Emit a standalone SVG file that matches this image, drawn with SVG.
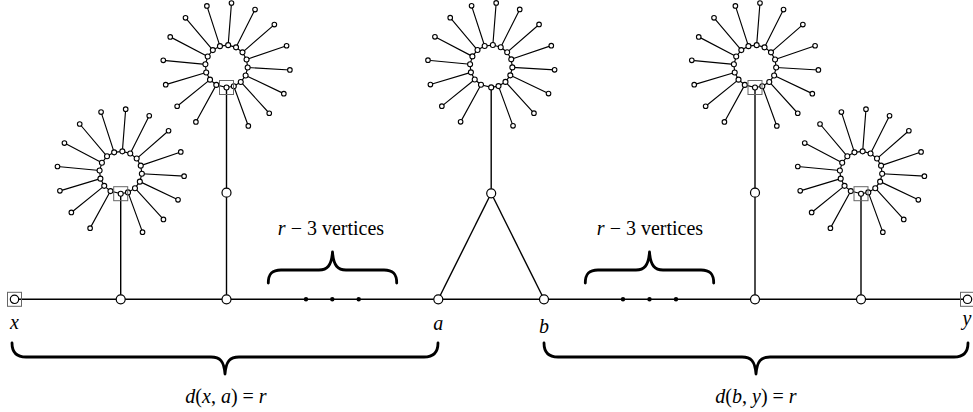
<svg xmlns="http://www.w3.org/2000/svg" xmlns:xlink="http://www.w3.org/1999/xlink" width="973" height="412" viewBox="0 0 973 412">
<style>
.edge{stroke:#000;stroke-width:1.4;fill:none}
.fl{stroke:#000;stroke-width:1.15;fill:none}
.sn{fill:#fff;stroke:#000;stroke-width:1.1}
.bn{fill:#fff;stroke:#000;stroke-width:1.2}
.sq{fill:none;stroke:#666;stroke-width:1}
.dot{fill:#000}
.brace{fill:none;stroke:#000;stroke-width:2.8;stroke-linecap:round;stroke-linejoin:round}
.lbl{font-family:'Liberation Serif','Times New Roman',serif;font-size:20px;text-anchor:middle;fill:#000}
.it{font-style:italic}
</style>
<defs>
<g id="flower">
<polygon class="fl" points="1.66,-21.13 9.53,-18.94 15.98,-13.94 20.06,-6.87 21.16,1.22 19.13,9.13 14.27,15.68 7.29,19.91 0,21.2 -10.21,18.58 -16.47,13.34 -20.29,6.13 -21.11,-1.99 -18.79,-9.82 -13.68,-16.19 -6.55,-20.16"/>
<path class="fl" d="M1.66,-21.13L4.98,-63.30M9.53,-18.94L28.53,-56.73M15.98,-13.94L47.85,-41.74M20.06,-6.87L60.08,-20.57M21.16,1.22L63.39,3.66M19.13,9.13L57.32,27.34M14.27,15.68L42.74,46.96M7.29,19.91L21.82,59.63M-10.21,18.58L-30.59,55.65M-16.47,13.34L-49.35,39.96M-20.29,6.13L-60.79,18.35M-21.11,-1.99L-63.22,-5.98M-18.79,-9.82L-56.27,-29.42M-13.68,-16.19L-40.99,-48.50M-6.55,-20.16L-19.62,-60.39"/>
<g class="sn">
<circle cx="1.66" cy="-21.13" r="2.5"/><circle cx="9.53" cy="-18.94" r="2.5"/><circle cx="15.98" cy="-13.94" r="2.5"/><circle cx="20.06" cy="-6.87" r="2.5"/><circle cx="21.16" cy="1.22" r="2.5"/><circle cx="19.13" cy="9.13" r="2.5"/><circle cx="14.27" cy="15.68" r="2.5"/><circle cx="7.29" cy="19.91" r="2.5"/><circle cx="0" cy="21.2" r="2.5"/><circle cx="-10.21" cy="18.58" r="2.5"/><circle cx="-16.47" cy="13.34" r="2.5"/><circle cx="-20.29" cy="6.13" r="2.5"/><circle cx="-21.11" cy="-1.99" r="2.5"/><circle cx="-18.79" cy="-9.82" r="2.5"/><circle cx="-13.68" cy="-16.19" r="2.5"/><circle cx="-6.55" cy="-20.16" r="2.5"/>
<circle cx="4.98" cy="-63.30" r="2.3"/><circle cx="28.53" cy="-56.73" r="2.3"/><circle cx="47.85" cy="-41.74" r="2.3"/><circle cx="60.08" cy="-20.57" r="2.3"/><circle cx="63.39" cy="3.66" r="2.3"/><circle cx="57.32" cy="27.34" r="2.3"/><circle cx="42.74" cy="46.96" r="2.3"/><circle cx="21.82" cy="59.63" r="2.3"/><circle cx="-30.59" cy="55.65" r="2.3"/><circle cx="-49.35" cy="39.96" r="2.3"/><circle cx="-60.79" cy="18.35" r="2.3"/><circle cx="-63.22" cy="-5.98" r="2.3"/><circle cx="-56.27" cy="-29.42" r="2.3"/><circle cx="-40.99" cy="-48.50" r="2.3"/><circle cx="-19.62" cy="-60.39" r="2.3"/>
</g>
</g>
</defs>
<g id="connectors">
<line class="edge" x1="14.5" y1="299.3" x2="967.5" y2="299.3"/>
<line class="edge" x1="120.7" y1="193.7" x2="120.7" y2="299.3"/>
<line class="edge" x1="226.5" y1="87.5" x2="226.5" y2="299.3"/>
<line class="edge" x1="491.2" y1="87.4" x2="491.2" y2="193.3"/>
<line class="edge" x1="491.2" y1="193.3" x2="438.3" y2="299.3"/>
<line class="edge" x1="491.2" y1="193.3" x2="544" y2="299.3"/>
<line class="edge" x1="755" y1="87.5" x2="755" y2="299.3"/>
<line class="edge" x1="861" y1="193.7" x2="861" y2="299.3"/>
</g>
<g id="flower1"><use xlink:href="#flower" href="#flower" transform="translate(120.7,172.5)"/><rect class="sq" x="113.7" y="186.7" width="14" height="14"/></g>
<g id="flower2"><use xlink:href="#flower" href="#flower" transform="translate(226.5,66.3)"/><rect class="sq" x="219.5" y="80.5" width="14" height="14"/></g>
<g id="flower3"><use xlink:href="#flower" href="#flower" transform="translate(491.2,66.2)"/></g>
<g id="flower4"><use xlink:href="#flower" href="#flower" transform="translate(755,66.3)"/><rect class="sq" x="748" y="80.5" width="14" height="14"/></g>
<g id="flower5"><use xlink:href="#flower" href="#flower" transform="translate(861,172.5)"/><rect class="sq" x="854" y="186.7" width="14" height="14"/></g>
<g id="node-x"><rect class="sq" x="7.5" y="292.3" width="14" height="14"/><circle class="bn" cx="14.5" cy="299.3" r="4.2"/><text class="lbl it" font-family="Liberation Serif, serif" x="14.5" y="329">x</text></g>
<g id="node-y"><rect class="sq" x="960.5" y="292.3" width="14" height="14"/><circle class="bn" cx="967.5" cy="299.3" r="4.2"/><text class="lbl it" font-family="Liberation Serif, serif" x="967" y="325">y</text></g>
<g id="node-p1"><circle class="bn" cx="120.7" cy="299.3" r="4.5"/></g>
<g id="node-p2"><circle class="bn" cx="226.5" cy="299.3" r="4.5"/></g>
<g id="node-s2"><circle class="bn" cx="226.5" cy="192.7" r="4.5"/></g>
<g id="node-a"><circle class="bn" cx="438.3" cy="299.3" r="4.5"/><text class="lbl it" font-family="Liberation Serif, serif" x="438.3" y="330">a</text></g>
<g id="node-b"><circle class="bn" cx="544" cy="299.3" r="4.5"/><text class="lbl it" font-family="Liberation Serif, serif" x="544" y="333">b</text></g>
<g id="node-t"><circle class="bn" cx="491.2" cy="193.3" r="4.5"/></g>
<g id="node-s4"><circle class="bn" cx="755" cy="192.7" r="4.5"/></g>
<g id="node-p4"><circle class="bn" cx="755" cy="299.3" r="4.5"/></g>
<g id="node-p5"><circle class="bn" cx="861" cy="299.3" r="4.5"/></g>
<g id="dots-left"><circle class="dot" cx="306" cy="299.3" r="2.2"/><circle class="dot" cx="332.3" cy="299.3" r="2.2"/><circle class="dot" cx="358.7" cy="299.3" r="2.2"/></g>
<g id="dots-right"><circle class="dot" cx="623" cy="299.3" r="2.2"/><circle class="dot" cx="649.5" cy="299.3" r="2.2"/><circle class="dot" cx="676" cy="299.3" r="2.2"/></g>
<g id="brace-top-left">
<path class="brace" d="M268.3,283C268.3,274 272,270 281,270L319,270C327,270 331.5,266 332.5,252C333.5,266 338,270 346,270L384,270C393,270 396.7,274 396.7,283"/>
<text class="lbl" font-family="Liberation Serif, serif" x="331" y="235"><tspan class="it">r</tspan> − 3 vertices</text>
</g>
<g id="brace-top-right">
<path class="brace" d="M585.3,283C585.3,274 589,270 598,270L636,270C644,270 648.5,266 649.5,252C650.5,266 655,270 663,270L701,270C710,270 713.7,274 713.7,283"/>
<text class="lbl" font-family="Liberation Serif, serif" x="650" y="235"><tspan class="it">r</tspan> − 3 vertices</text>
</g>
<g id="brace-bottom-left">
<path class="brace" d="M12,343C12,352 16,357 26,357L211,357C220,357 224,361 225,374C226,361 230,357 239,357L424,357C434,357 438,352 438,343"/>
<text class="lbl" font-family="Liberation Serif, serif" x="226" y="403"><tspan class="it">d</tspan>(<tspan class="it">x</tspan>, <tspan class="it">a</tspan>) = <tspan class="it">r</tspan></text>
</g>
<g id="brace-bottom-right">
<path class="brace" d="M544,343C544,352 548,357 558,357L742,357C751,357 755,361 756,374C757,361 761,357 770,357L954,357C964,357 968,352 968,343"/>
<text class="lbl" font-family="Liberation Serif, serif" x="756" y="403"><tspan class="it">d</tspan>(<tspan class="it">b</tspan>, <tspan class="it">y</tspan>) = <tspan class="it">r</tspan></text>
</g>
</svg>
